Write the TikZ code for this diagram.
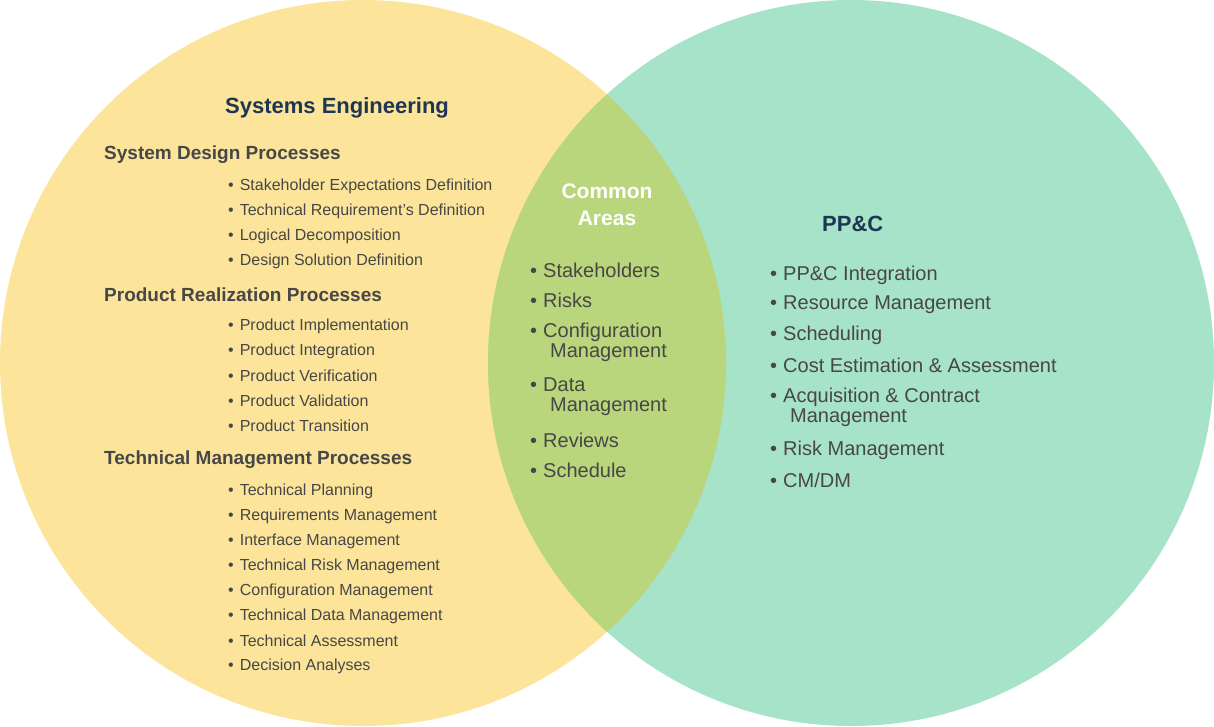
\documentclass[tikz,border=0pt]{standalone}
\usepackage{fontspec}
\setmainfont{Liberation Sans}
\definecolor{yel}{HTML}{FCE59A}
\definecolor{grn}{HTML}{A6E3C9}
\definecolor{ovl}{HTML}{B9D67C}
\definecolor{txt}{HTML}{474747}
\definecolor{ttl}{HTML}{1E3553}
\begin{document}
\begin{tikzpicture}[x=1pt,y=-1pt,
  li/.style={anchor=west,inner sep=0,text=txt,font=\fontsize{16}{16}\selectfont},
  bi/.style={anchor=west,inner sep=0,text=txt,font=\fontsize{20}{20}\selectfont},
  hd/.style={anchor=west,inner sep=0,text=txt,font=\bfseries\fontsize{19}{19}\selectfont},
  tt/.style={anchor=west,inner sep=0,text=ttl,font=\bfseries\fontsize{22}{22}\selectfont}]
\useasboundingbox (0,0) rectangle (1214,726);
\fill[yel] (363,363) circle (363);
\fill[grn] (851,363) circle (363);
\begin{scope}
\clip (363,363) circle (363);
\fill[ovl] (851,363) circle (363);
\end{scope}
\node[tt] (se) at (225,108) {Systems Engineering};
\node[hd] (h1) at (104,155) {System Design Processes};
\foreach \t [count=\i] in {Stakeholder Expectations Definition,Technical Requirement’s Definition,Logical Decomposition,Design Solution Definition}
  \node[li] (a\i) at (228,{161+25*\i}) {•\hspace{6pt}\t};
\node[hd] (h2) at (104,295) {Product Realization Processes};
\foreach \t [count=\i] in {Product Implementation,Product Integration,Product Verification,Product Validation,Product Transition}
  \node[li] (b\i) at (228,{301+25*\i}) {•\hspace{6pt}\t};
\node[hd] (h3) at (104,460) {Technical Management Processes};
\foreach \t [count=\i] in {Technical Planning,Requirements Management,Interface Management,Technical Risk Management,Configuration Management,Technical Data Management,Technical Assessment,Decision Analyses}
  \node[li] (c\i) at (228,{466+25*\i}) {•\hspace{6pt}\t};
\node[inner sep=0,text=white,font=\bfseries\fontsize{21}{27}\selectfont,align=center] (ca) at (607,205) {Common\\Areas};
\node[bi] (m1) at (530,270) {•\hspace{6pt}Stakeholders};
\node[bi] (m2) at (530,300) {•\hspace{6pt}Risks};
\node[bi,align=left] (m3) at (530,342) {•\hspace{6pt}Configuration\\\hspace{20pt}Management};
\node[bi,align=left] (m4) at (530,397) {•\hspace{6pt}Data\\\hspace{20pt}Management};
\node[bi] (m5) at (530,440) {•\hspace{6pt}Reviews};
\node[bi] (m6) at (530,470) {•\hspace{6pt}Schedule};
\node[tt] (pp) at (822,224) {PP\&C};
\node[bi] (r1) at (770,275) {•\hspace{6pt}PP\&C Integration};
\node[bi] (r2) at (770,305) {•\hspace{6pt}Resource Management};
\node[bi] (r3) at (770,335) {•\hspace{6pt}Scheduling};
\node[bi] (r4) at (770,365) {•\hspace{6pt}Cost Estimation \& Assessment};
\node[bi,align=left] (r5) at (770,407) {•\hspace{6pt}Acquisition \& Contract\\\hspace{20pt}Management};
\node[bi] (r6) at (770,450) {•\hspace{6pt}Risk Management};
\node[bi] (r7) at (770,480) {•\hspace{6pt}CM/DM};
\end{tikzpicture}
\end{document}
